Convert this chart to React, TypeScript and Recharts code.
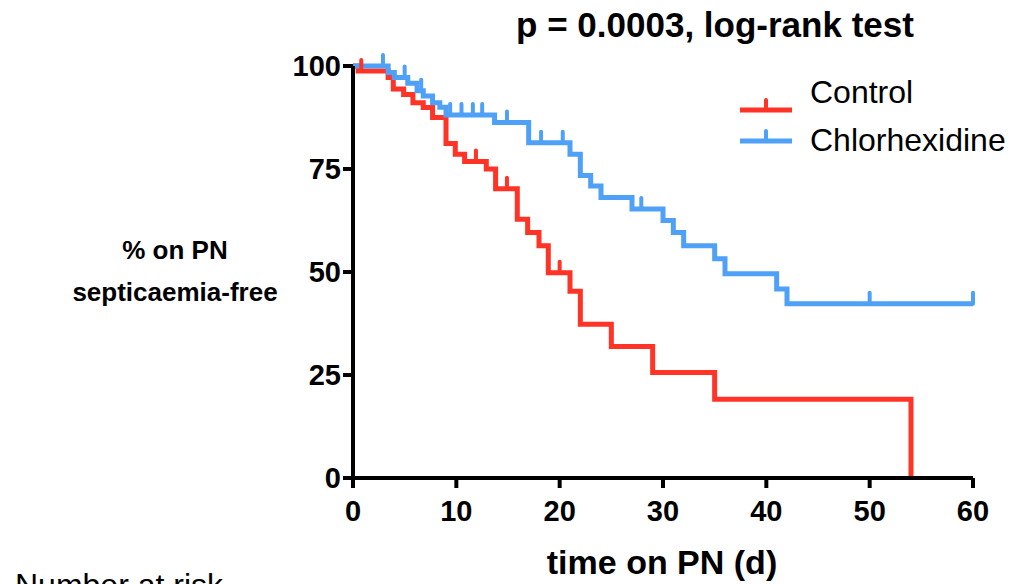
import { ComposedChart, Line, XAxis, YAxis } from 'recharts'

// Kaplan-Meier steps: time (days) and % septicaemia-free after the event
const controlTimes = [0, 0.5, 3.4, 3.9, 4.9, 5.8, 6.8, 7.7, 9, 9.9, 10.8, 12.9, 13.8, 15.9, 16.9, 18, 18.9, 21, 22, 25, 29, 35, 54]
const controlSurv = [100, 98.8, 97.2, 94.4, 93.1, 91.1, 89.9, 87.5, 81.2, 78.6, 76.8, 75, 70.2, 62.8, 59.6, 56.4, 49.8, 45.3, 37.3, 31.9, 25.6, 19.1, 0]
const controlCensored = [0.8, 11.9, 14.9, 20]

const chlorTimes = [0, 3.4, 4.0, 5.3, 6.2, 6.8, 7.7, 8.4, 9, 13.7, 17, 21, 22, 23, 24, 27, 30, 31, 32, 35, 36, 41, 42]
const chlorSurv = [100, 98.4, 97.2, 95.8, 94, 92.7, 91.1, 90, 88.1, 86.3, 81.4, 78.6, 73.4, 70.9, 68.1, 65.3, 62.5, 59.6, 56.4, 53.2, 49.6, 45.9, 42.3]
const chlorCensored = [2.9, 5.0, 6.6, 9.4, 10.5, 11.6, 12.5, 14.9, 18.2, 20.3, 27.9, 50, 60]

const xTicks = [0, 10, 20, 30, 40, 50, 60]
const yTicks = [0, 25, 50, 75, 100]

const RED = '#ff3326'
const BLUE = '#4fa0f7'

function buildSeries(times: number[], surv: number[], censored: number[]) {
  const levelAt = (t: number) => {
    let v = surv[0]
    times.forEach((tt, i) => { if (tt <= t) v = surv[i] })
    return v
  }
  const rows = times.map((t, i) => ({ t, s: surv[i], c: false }))
  censored.forEach(t => rows.push({ t, s: levelAt(t), c: true }))
  return rows.sort((a, b) => a.t - b.t)
}

const controlData = buildSeries(controlTimes, controlSurv, controlCensored)
const chlorData = buildSeries(chlorTimes, chlorSurv, chlorCensored)

const censorDot = (color: string) => (props: any) => {
  const { cx, cy, payload, index } = props
  if (!payload.c) return <g key={`d${index}`} />
  return <line key={`d${index}`} x1={cx} x2={cx} y1={cy} y2={cy - 11} stroke={color} strokeWidth={4} strokeLinecap="round" />
}

const FONT = '"Liberation Sans", Arial, sans-serif'
const bold = { fontFamily: FONT, fontWeight: 700, color: '#000' }
const tickStyle = { fill: '#000', fontSize: 29, fontWeight: 700, fontFamily: FONT }

export default function App() {
  return (
    <div style={{ position: 'absolute', left: 0, top: 0, width: 1017, height: 584, overflow: 'hidden', background: '#fff' }}>
      <ComposedChart width={1017} height={584} margin={{ top: 66, right: 44, bottom: 56, left: 283 }}>
        <XAxis
          type="number"
          dataKey="t"
          domain={[0, 60]}
          ticks={xTicks}
          allowDuplicatedCategory={false}
          height={50}
          stroke="#000"
          axisLine={{ strokeWidth: 4 }}
          tickLine={{ strokeWidth: 4 }}
          tickSize={10}
          tickMargin={12}
          tick={tickStyle}
        />
        <YAxis
          type="number"
          domain={[0, 100]}
          ticks={yTicks}
          width={70}
          stroke="#000"
          axisLine={{ strokeWidth: 4 }}
          tickLine={{ strokeWidth: 4 }}
          tickSize={10}
          tickMargin={2}
          tick={tickStyle}
        />
        <Line data={controlData} dataKey="s" type="stepAfter" stroke={RED} strokeWidth={5} dot={censorDot(RED)} activeDot={false} isAnimationActive={false} />
        <Line data={chlorData} dataKey="s" type="stepAfter" stroke={BLUE} strokeWidth={5} dot={censorDot(BLUE)} activeDot={false} isAnimationActive={false} />
      </ComposedChart>

      <div style={{ ...bold, position: 'absolute', left: 415, width: 600, top: 5, textAlign: 'center', fontSize: 35, lineHeight: '40px' }}>p = 0.0003, log-rank test</div>

      <div style={{ ...bold, position: 'absolute', left: 65, width: 220, top: 229, textAlign: 'center', fontSize: 26, lineHeight: '42px' }}>
        % on PN<br />septicaemia-free
      </div>

      <div style={{ ...bold, position: 'absolute', left: 462, width: 400, top: 542, textAlign: 'center', fontSize: 34, lineHeight: '40px' }}>time on PN (d)</div>

      <svg style={{ position: 'absolute', left: 0, top: 0 }} width={1017} height={584}>
        <line x1={740} x2={792} y1={110} y2={110} stroke={RED} strokeWidth={5} />
        <line x1={766} x2={766} y1={110} y2={100} stroke={RED} strokeWidth={4} strokeLinecap="round" />
        <line x1={740} x2={792} y1={141} y2={141} stroke={BLUE} strokeWidth={5} />
        <line x1={766} x2={766} y1={141} y2={131} stroke={BLUE} strokeWidth={4} strokeLinecap="round" />
      </svg>
      <div style={{ fontFamily: FONT, position: 'absolute', left: 810, top: 74, fontSize: 32, lineHeight: '36px' }}>Control</div>
      <div style={{ fontFamily: FONT, position: 'absolute', left: 810, top: 122, fontSize: 32, lineHeight: '36px' }}>Chlorhexidine</div>

      <div style={{ fontFamily: FONT, position: 'absolute', left: 15, top: 567, fontSize: 32, lineHeight: '36px' }}>Number at risk</div>
    </div>
  )
}
